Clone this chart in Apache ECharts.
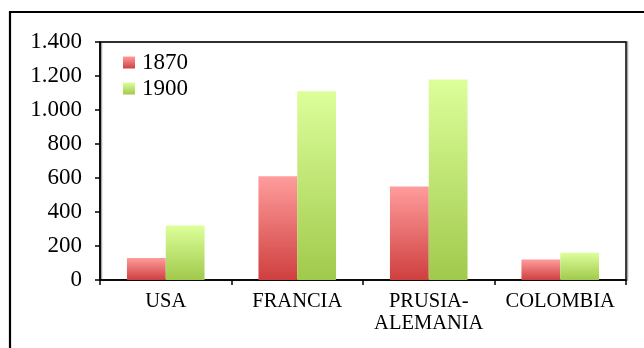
<!DOCTYPE html>
<html>
<head>
<meta charset="utf-8">
<script src="https://cdn.jsdelivr.net/npm/echarts@6/dist/echarts.min.js"></script>
<style>
  html, body { margin: 0; padding: 0; background: #fff; }
  #chart { width: 644px; height: 348px; }
</style>
</head>
<body>
<div id="chart"></div>
<script>
// Countries and values per year
const categories = ['USA', 'FRANCIA', 'PRUSIA-\nALEMANIA', 'COLOMBIA'];
const seriesNames = ['1870', '1900'];
const values1870 = [130, 610, 550, 120];
const values1900 = [320, 1110, 1180, 160];
const yTicks = { min: 0, max: 1400, interval: 200 };

const FONT = 'Liberation Serif';

function grad(top, bottom) {
  return new echarts.graphic.LinearGradient(0, 0, 0, 1, [
    { offset: 0, color: top },
    { offset: 1, color: bottom }
  ]);
}

// Thousands separator with a dot: 1400 -> 1.400
function fmt(v) {
  return String(v).replace(/\B(?=(\d{3})+(?!\d))/g, '.');
}

const chart = echarts.init(document.getElementById('chart'), null, { renderer: 'canvas' });

chart.setOption({
  animation: false,
  backgroundColor: '#ffffff',
  graphic: [
    {
      type: 'polyline',
      shape: { points: [[10, 360], [10, 12], [660, 12]] },
      style: { stroke: '#000', lineWidth: 2.2, fill: null },
      z: 100
    }
  ],
  grid: {
    left: 100, top: 42, right: 18, bottom: 68,
    show: true,
    borderColor: '#000',
    borderWidth: 1.5,
    backgroundColor: 'transparent',
    shadowColor: 'rgba(0,0,0,0.35)',
    shadowOffsetX: 1.5,
    shadowOffsetY: 0,
    shadowBlur: 0
  },
  legend: {
    orient: 'vertical',
    left: 123,
    top: 50,
    padding: 0,
    itemWidth: 12,
    itemHeight: 12,
    itemGap: 1,
    icon: 'rect',
    data: seriesNames,
    textStyle: { fontFamily: FONT, fontSize: 23, color: '#000', lineHeight: 23, padding: [2, 0, 0, 2] }
  },
  xAxis: {
    type: 'category',
    data: categories,
    boundaryGap: true,
    axisLine: { lineStyle: { color: '#000', width: 1.5 } },
    axisTick: { show: true, length: 5, lineStyle: { color: '#000', width: 1.5 } },
    axisLabel: {
      fontFamily: FONT, fontSize: 20.5, color: '#000', margin: 11,
      lineHeight: 22, interval: 0
    },
    splitLine: { show: false }
  },
  yAxis: {
    type: 'value',
    min: yTicks.min,
    max: yTicks.max,
    interval: yTicks.interval,
    axisLine: { show: true, lineStyle: { color: '#000', width: 1.5 } },
    axisTick: { show: true, length: 5, lineStyle: { color: '#000', width: 1.5 } },
    axisLabel: {
      fontFamily: FONT, fontSize: 23, color: '#000', margin: 18,
      formatter: fmt
    },
    splitLine: { show: false }
  },
  series: [
    {
      name: seriesNames[0],
      type: 'bar',
      data: values1870,
      barGap: '0%',
      barCategoryGap: '41%',
      itemStyle: { color: grad('#ff9c9c', '#cf3f3f') }
    },
    {
      name: seriesNames[1],
      type: 'bar',
      data: values1900,
      barGap: '0%',
      barCategoryGap: '41%',
      itemStyle: { color: grad('#dcff9a', '#a1c94c') }
    }
  ]
});
</script>
</body>
</html>
